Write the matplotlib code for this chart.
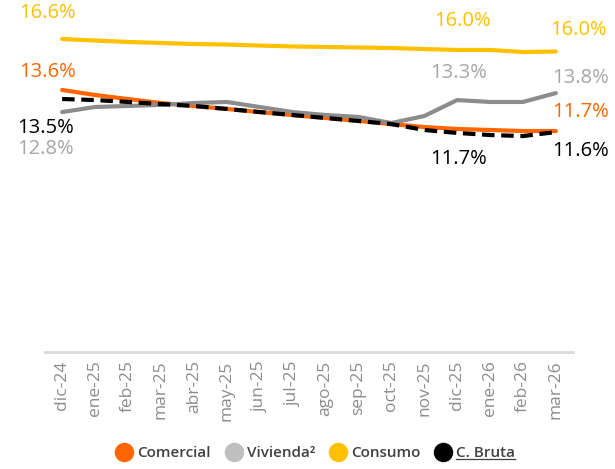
#!/usr/bin/env python3
"""Tasa por segmento de cartera, dic-24 a mar-26."""

import matplotlib
matplotlib.use("Agg")
import matplotlib.pyplot as plt
from matplotlib.lines import Line2D

plt.rcParams["font.family"] = ["Open Sans", "DejaVu Sans"]

months = ["dic-24", "ene-25", "feb-25", "mar-25", "abr-25", "may-25", "jun-25",
          "jul-25", "ago-25", "sep-25", "oct-25", "nov-25", "dic-25", "ene-26",
          "feb-26", "mar-26"]

# values (one shared scale)
consumo = [16.95, 16.86, 16.78, 16.72, 16.66, 16.63, 16.57, 16.52, 16.49, 16.46,
           16.43, 16.37, 16.32, 16.32, 16.20, 16.23]
comercial = [14.02, 13.73, 13.50, 13.27, 13.10, 12.93, 12.75, 12.58, 12.41, 12.24,
             12.06, 11.89, 11.78, 11.72, 11.66, 11.66]
vivienda = [12.75, 13.04, 13.10, 13.16, 13.27, 13.33, 13.04, 12.75, 12.58, 12.47,
            12.12, 12.52, 13.44, 13.33, 13.33, 13.84]
bruta = [13.50, 13.44, 13.33, 13.21, 13.10, 12.93, 12.75, 12.58, 12.41, 12.24,
         12.06, 11.72, 11.55, 11.43, 11.37, 11.60]

# data labels: (series, month index, text, dx px, dy px)
labels = [
    ("consumo", 0, "16.6%", -15, 26),
    ("consumo", 12, "16.0%", 5, 29),
    ("consumo", 15, "16.0%", 23, 22),
    ("comercial", 0, "13.6%", -15, 18),
    ("comercial", 15, "11.7%", 25, 19),
    ("vivienda", 0, "12.8%", -17, -37),
    ("vivienda", 12, "13.3%", 1, 27),
    ("vivienda", 15, "13.8%", 25, 15),
    ("bruta", 0, "13.5%", -17, -29),
    ("bruta", 12, "11.7%", 1, -26),
    ("bruta", 15, "11.6%", 25, -19),
]

ORANGE = "#FF6600"
GRAY_LINE = "#8C8C8C"
GRAY_TEXT = "#A6A6A6"
YELLOW = "#FFC000"
BLACK = "#000000"

series = {
    "comercial": (comercial, ORANGE, ORANGE),
    "vivienda": (vivienda, GRAY_LINE, GRAY_TEXT),
    "consumo": (consumo, YELLOW, YELLOW),
    "bruta": (bruta, BLACK, BLACK),
}

fig = plt.figure(figsize=(6.15, 4.69), dpi=100)
ax = fig.add_axes([45 / 615, 1 - 352 / 469, 528 / 615, 352 / 469])

x = list(range(len(months)))
ax.plot(x, comercial, color=ORANGE, lw=3, solid_capstyle="round", solid_joinstyle="round", zorder=2)
ax.plot(x, vivienda, color=GRAY_LINE, lw=3, solid_capstyle="round", solid_joinstyle="round", zorder=3)
ax.plot(x, consumo, color=YELLOW, lw=3, solid_capstyle="round", solid_joinstyle="round", zorder=2)
ax.plot(x, bruta, color=BLACK, lw=3, dashes=(3, 1.6), zorder=4)

for name, i, txt, dx, dy in labels:
    vals, _, tcolor = series[name]
    ax.annotate(txt, xy=(i, vals[i]), xytext=(dx, dy), textcoords="offset pixels",
                ha="center", va="center", color=tcolor, fontsize=14.5,
                fontweight="medium", annotation_clip=False)

ax.set_xlim(-0.52, 15.52)
ax.set_ylim(-1.04, 19.19)
ax.set_xticks(x)
ax.set_xticklabels(months, rotation=90, color="#8C8C8C", fontsize=12.5)
ax.tick_params(axis="x", length=0, pad=6)
ax.set_yticks([])
for side in ["top", "right", "left"]:
    ax.spines[side].set_visible(False)
ax.spines["bottom"].set_color("#D9D9D9")
ax.spines["bottom"].set_linewidth(2)

handles = [
    Line2D([], [], ls="none", marker="o", ms=13, mfc=ORANGE, mec=ORANGE),
    Line2D([], [], ls="none", marker="o", ms=13, mfc="#BFBFBF", mec="#BFBFBF"),
    Line2D([], [], ls="none", marker="o", ms=13, mfc=YELLOW, mec=YELLOW),
    Line2D([], [], ls="none", marker="o", ms=13, mfc=BLACK, mec=BLACK),
]
names = ["Comercial", "Vivienda²", "Consumo", "C. Bruta"]
leg = fig.legend(handles, names, loc="center", bbox_to_anchor=(315 / 615, 1 - 453 / 469),
                 ncol=4, frameon=False, handletextpad=0.25, handlelength=1.2,
                 columnspacing=0.9, labelcolor="#404040",
                 prop={"size": 11, "weight": "semibold"})

# underline "C. Bruta"
fig.canvas.draw()
bb = leg.get_texts()[3].get_window_extent().transformed(fig.transFigure.inverted())
fig.add_artist(Line2D([bb.x0, bb.x1], [bb.y0 + 0.002, bb.y0 + 0.002],
                      transform=fig.transFigure, color="#404040", lw=0.9))

fig.savefig("out.png", dpi=100)
